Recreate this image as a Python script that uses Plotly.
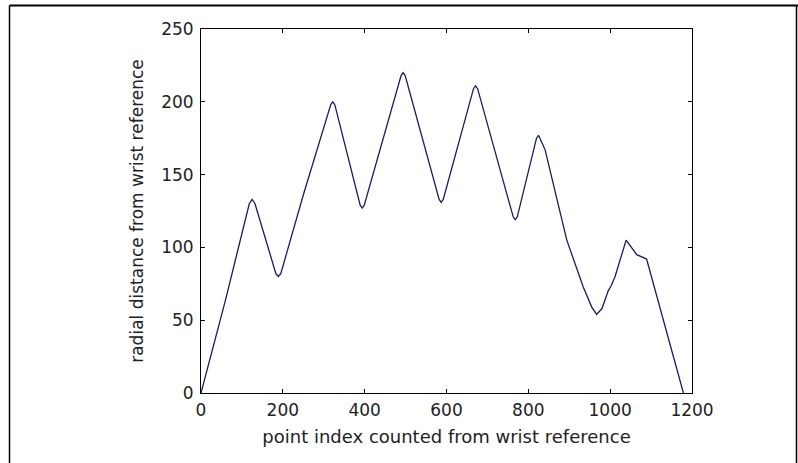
import plotly.graph_objects as go

# point index counted from wrist reference
point_index = [0, 60, 118, 125, 132, 183, 189, 195, 250, 317, 322, 327, 389, 394, 399,
               489, 494, 499, 582, 587, 592, 666, 671, 676, 763, 768, 773, 820, 825, 841,
               894, 934, 955, 967, 980, 995, 1003, 1012, 1039, 1065, 1089, 1179]
# radial distance from wrist reference
radial_distance = [0, 64, 130, 133, 130, 82, 80, 82, 136, 198, 200, 198, 129, 127, 129,
                   218, 220, 218, 133, 131, 133, 209, 211, 209, 121, 119, 121, 175, 177, 167,
                   105, 73, 59, 54, 58, 70, 74, 80, 105, 95, 92, 0]

x_ticks = [0, 200, 400, 600, 800, 1000, 1200]
y_ticks = [0, 50, 100, 150, 200, 250]

L, R, T, B = 201, 692, 29, 393
W, H = 798, 463

def px(x):
    return (x - L) / (R - L)

def py(y):
    return (B - y) / (B - T)

fig = go.Figure()
fig.add_trace(go.Scatter(x=point_index, y=radial_distance, mode="lines",
                         line=dict(color="#1a1a66", width=1.3), showlegend=False))

axis_common = dict(showline=True, linecolor="black", linewidth=1, mirror="ticks",
                   ticks="inside", ticklen=4, tickcolor="black", showgrid=False,
                   zeroline=False, tickfont=dict(family="DejaVu Sans", size=17, color="#222"))

fig.update_xaxes(range=[0, 1200], tickvals=x_ticks, ticktext=[str(v) for v in x_ticks],
                 ticklabelstandoff=2,
                 title=dict(text="point index counted from wrist reference",
                            font=dict(family="DejaVu Sans", size=18, color="#222"), standoff=10),
                 **axis_common)
fig.update_yaxes(range=[0, 250], tickvals=y_ticks, ticktext=[str(v) for v in y_ticks],
                 ticklabelstandoff=3,
                 title=dict(text="radial distance from wrist reference",
                            font=dict(family="DejaVu Sans", size=17, color="#222"), standoff=13),
                 **axis_common)

frame = dict(type="line", xref="paper", yref="paper", line=dict(color="black", width=2))
fig.update_layout(
    width=W, height=H,
    margin=dict(l=L, r=W - R, t=T, b=H - B, autoexpand=False),
    paper_bgcolor="white", plot_bgcolor="white",
    shapes=[
        dict(frame, x0=px(9.5), x1=px(799), y0=py(5.5), y1=py(5.5)),
        dict(frame, x0=px(9.5), x1=px(9.5), y0=py(5.5), y1=py(470), line=dict(color="black", width=1.5)),
        dict(frame, x0=px(796.5), x1=px(796.5), y0=py(5.5), y1=py(470), line=dict(color="black", width=1.5)),
    ],
)

fig.write_html("out.html", config={"displayModeBar": False},
               post_script="document.body.style.margin='0';document.body.style.overflow='hidden';")
